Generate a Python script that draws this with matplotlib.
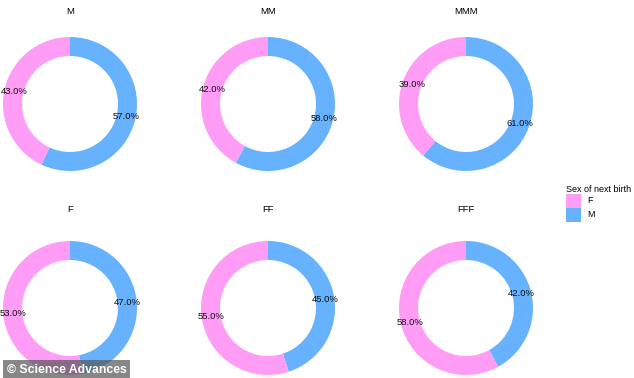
import matplotlib.pyplot as plt
from matplotlib.patches import Patch

plt.rcParams['font.family'] = ['Liberation Sans', 'DejaVu Sans']

# -----------------------------
# Data
# -----------------------------
panel_titles = ["M", "MM", "MMM", "F", "FF", "FFF"]
share_m = [57.0, 58.0, 61.0, 47.0, 45.0, 42.0]
share_f = [43.0, 42.0, 39.0, 53.0, 55.0, 58.0]
legend_title = "Sex of next birth"
legend_labels = ["F", "M"]
colors = {"F": "#FF9CF6", "M": "#66B2FF"}

# -----------------------------
# Layout (pixels)
# -----------------------------
W, H = 634, 378
fig = plt.figure(figsize=(W / 100, H / 100), dpi=100)

col_x = [70, 268, 466]
row_y = [104, 308]
radius = 67
ring = 19

for i, title in enumerate(panel_titles):
    cx = col_x[i % 3]
    cy = row_y[i // 3]
    ax = fig.add_axes([(cx - radius) / W, (H - cy - radius) / H,
                       2 * radius / W, 2 * radius / H])
    wedges, texts, autotexts = ax.pie(
        [share_m[i], share_f[i]],
        colors=[colors["M"], colors["F"]],
        startangle=90, counterclock=False,
        radius=1.0,
        wedgeprops=dict(width=ring / radius, linewidth=0),
        autopct='%1.1f%%',
        pctdistance=1 - (ring / 2) / radius,
        textprops=dict(fontsize=6.8, color='#111111'),
    )
    ax.set_xlim(-1, 1)
    ax.set_ylim(-1, 1)
    ax.set_axis_off()
    fig.text(cx / W, 1 - 12 / H if i < 3 else 1 - 210 / H, title,
             ha='center', va='center', fontsize=6.8)

# legend
handles = [Patch(facecolor=colors[l], edgecolor='none') for l in legend_labels]
leg = fig.legend(handles, legend_labels, title=legend_title,
                 loc='upper left', bbox_to_anchor=(562 / W, 1 - 181 / H),
                 frameon=False, fontsize=6.5, title_fontsize=6.5,
                 handlelength=1.75, handleheight=2.0, handletextpad=0.7,
                 labelspacing=0.0, borderaxespad=0)
leg._legend_box.align = "left"

# watermark
fig.text(7 / W, 1 - 370 / H, "\u00a9 Science Advances", ha='left', va='center',
         fontsize=8.8, fontweight='bold', color='white',
         bbox=dict(boxstyle='square,pad=0.3', facecolor='#555555',
                   edgecolor='none', alpha=0.7))

plt.savefig("out.png", dpi=100)
plt.close()
